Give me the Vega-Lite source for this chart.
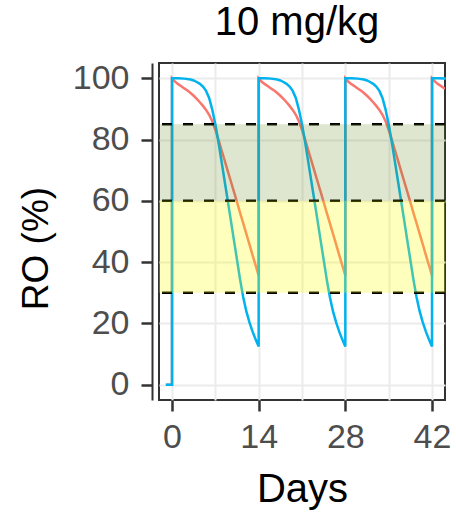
{
  "$schema": "https://vega.github.io/schema/vega-lite/v6.json",
  "width": 286,
  "height": 337,
  "autosize": "none",
  "padding": {"left": 159, "top": 63, "right": 11, "bottom": 112},
  "background": "white",
  "title": {"text": "10 mg/kg", "font": "Liberation Sans", "fontSize": 40, "fontWeight": "normal", "color": "#000000", "anchor": "middle", "baseline": "alphabetic", "offset": -14, "dx": -5},
  "datasets": {
    "blue": [
      {"day": -1, "ro": 0}, {"day": 0, "ro": 0}, {"day": 0, "ro": 100}, {"day": 1, "ro": 100}, {"day": 2, "ro": 99.9}, {"day": 3, "ro": 99.6}, {"day": 3.5, "ro": 99.3}, {"day": 4, "ro": 98.8}, {"day": 4.5, "ro": 98.2}, {"day": 5, "ro": 97.3}, {"day": 5.5, "ro": 95.9}, {"day": 6, "ro": 93.6}, {"day": 6.5, "ro": 89.8}, {"day": 7, "ro": 85}, {"day": 7.5, "ro": 79.2}, {"day": 8, "ro": 72.9}, {"day": 8.5, "ro": 66.5}, {"day": 9, "ro": 60.1}, {"day": 9.5, "ro": 53.7}, {"day": 10, "ro": 47.2}, {"day": 10.5, "ro": 40.8}, {"day": 11, "ro": 34.3}, {"day": 11.5, "ro": 28.6}, {"day": 12, "ro": 24}, {"day": 12.5, "ro": 20.4}, {"day": 13, "ro": 17.4}, {"day": 13.5, "ro": 14.8}, {"day": 14, "ro": 12.5},
      {"day": 14, "ro": 100}, {"day": 15, "ro": 100}, {"day": 16, "ro": 99.9}, {"day": 17, "ro": 99.6}, {"day": 17.5, "ro": 99.3}, {"day": 18, "ro": 98.8}, {"day": 18.5, "ro": 98.2}, {"day": 19, "ro": 97.3}, {"day": 19.5, "ro": 95.9}, {"day": 20, "ro": 93.6}, {"day": 20.5, "ro": 89.8}, {"day": 21, "ro": 85}, {"day": 21.5, "ro": 79.2}, {"day": 22, "ro": 72.9}, {"day": 22.5, "ro": 66.5}, {"day": 23, "ro": 60.1}, {"day": 23.5, "ro": 53.7}, {"day": 24, "ro": 47.2}, {"day": 24.5, "ro": 40.8}, {"day": 25, "ro": 34.3}, {"day": 25.5, "ro": 28.6}, {"day": 26, "ro": 24}, {"day": 26.5, "ro": 20.4}, {"day": 27, "ro": 17.4}, {"day": 27.5, "ro": 14.8}, {"day": 28, "ro": 12.5},
      {"day": 28, "ro": 100}, {"day": 29, "ro": 100}, {"day": 30, "ro": 99.9}, {"day": 31, "ro": 99.6}, {"day": 31.5, "ro": 99.3}, {"day": 32, "ro": 98.8}, {"day": 32.5, "ro": 98.2}, {"day": 33, "ro": 97.3}, {"day": 33.5, "ro": 95.9}, {"day": 34, "ro": 93.6}, {"day": 34.5, "ro": 89.8}, {"day": 35, "ro": 85}, {"day": 35.5, "ro": 79.2}, {"day": 36, "ro": 72.9}, {"day": 36.5, "ro": 66.5}, {"day": 37, "ro": 60.1}, {"day": 37.5, "ro": 53.7}, {"day": 38, "ro": 47.2}, {"day": 38.5, "ro": 40.8}, {"day": 39, "ro": 34.3}, {"day": 39.5, "ro": 28.6}, {"day": 40, "ro": 24}, {"day": 40.5, "ro": 20.4}, {"day": 41, "ro": 17.4}, {"day": 41.5, "ro": 14.8}, {"day": 42, "ro": 12.5},
      {"day": 42, "ro": 100}, {"day": 43, "ro": 100}, {"day": 44.1, "ro": 99.95}
    ],
    "red": [
      {"day": -1, "ro": 0}, {"day": 0, "ro": 0}, {"day": 0, "ro": 100}, {"day": 0.25, "ro": 99.4}, {"day": 0.5, "ro": 98.9}, {"day": 1, "ro": 98.1}, {"day": 1.5, "ro": 97.4}, {"day": 2, "ro": 96.7}, {"day": 2.5, "ro": 96}, {"day": 3, "ro": 95.2}, {"day": 3.5, "ro": 94.3}, {"day": 4, "ro": 93.3}, {"day": 4.5, "ro": 92.2}, {"day": 5, "ro": 91}, {"day": 5.5, "ro": 89.7}, {"day": 6, "ro": 88.1}, {"day": 6.5, "ro": 86}, {"day": 7, "ro": 83.2}, {"day": 7.5, "ro": 80}, {"day": 8, "ro": 76.6}, {"day": 8.5, "ro": 73.2}, {"day": 9, "ro": 69.8}, {"day": 9.5, "ro": 66.4}, {"day": 10, "ro": 63}, {"day": 10.5, "ro": 59.6}, {"day": 11, "ro": 56.1}, {"day": 11.5, "ro": 52.7}, {"day": 12, "ro": 49.3}, {"day": 12.5, "ro": 45.9}, {"day": 13, "ro": 42.4}, {"day": 13.5, "ro": 39}, {"day": 14, "ro": 35.6},
      {"day": 14, "ro": 100}, {"day": 14.25, "ro": 99.4}, {"day": 14.5, "ro": 98.9}, {"day": 15, "ro": 98.1}, {"day": 15.5, "ro": 97.4}, {"day": 16, "ro": 96.7}, {"day": 16.5, "ro": 96}, {"day": 17, "ro": 95.2}, {"day": 17.5, "ro": 94.3}, {"day": 18, "ro": 93.3}, {"day": 18.5, "ro": 92.2}, {"day": 19, "ro": 91}, {"day": 19.5, "ro": 89.7}, {"day": 20, "ro": 88.1}, {"day": 20.5, "ro": 86}, {"day": 21, "ro": 83.2}, {"day": 21.5, "ro": 80}, {"day": 22, "ro": 76.6}, {"day": 22.5, "ro": 73.2}, {"day": 23, "ro": 69.8}, {"day": 23.5, "ro": 66.4}, {"day": 24, "ro": 63}, {"day": 24.5, "ro": 59.6}, {"day": 25, "ro": 56.1}, {"day": 25.5, "ro": 52.7}, {"day": 26, "ro": 49.3}, {"day": 26.5, "ro": 45.9}, {"day": 27, "ro": 42.4}, {"day": 27.5, "ro": 39}, {"day": 28, "ro": 35.6},
      {"day": 28, "ro": 100}, {"day": 28.25, "ro": 99.4}, {"day": 28.5, "ro": 98.9}, {"day": 29, "ro": 98.1}, {"day": 29.5, "ro": 97.4}, {"day": 30, "ro": 96.7}, {"day": 30.5, "ro": 96}, {"day": 31, "ro": 95.2}, {"day": 31.5, "ro": 94.3}, {"day": 32, "ro": 93.3}, {"day": 32.5, "ro": 92.2}, {"day": 33, "ro": 91}, {"day": 33.5, "ro": 89.7}, {"day": 34, "ro": 88.1}, {"day": 34.5, "ro": 86}, {"day": 35, "ro": 83.2}, {"day": 35.5, "ro": 80}, {"day": 36, "ro": 76.6}, {"day": 36.5, "ro": 73.2}, {"day": 37, "ro": 69.8}, {"day": 37.5, "ro": 66.4}, {"day": 38, "ro": 63}, {"day": 38.5, "ro": 59.6}, {"day": 39, "ro": 56.1}, {"day": 39.5, "ro": 52.7}, {"day": 40, "ro": 49.3}, {"day": 40.5, "ro": 45.9}, {"day": 41, "ro": 42.4}, {"day": 41.5, "ro": 39}, {"day": 42, "ro": 35.6},
      {"day": 42, "ro": 100}, {"day": 42.25, "ro": 99.4}, {"day": 42.5, "ro": 98.9}, {"day": 43, "ro": 98.1}, {"day": 43.5, "ro": 97.4}, {"day": 44, "ro": 96.7}, {"day": 44.1, "ro": 96.6}
    ]
  },
  "layer": [
    {
      "data": {"name": "red"},
      "mark": {"type": "line", "color": "#F8766D", "strokeWidth": 2.5, "clip": true},
      "encoding": {
        "x": {"field": "day", "type": "quantitative", "scale": {"domain": [-2.1, 44.1], "nice": false, "zero": false},
          "axis": {"title": "Days", "titleFontSize": 40, "values": [0, 7, 14, 21, 28, 35, 42], "labelExpr": "datum.value % 14 == 0 ? datum.label : ''", "tickOpacity": {"condition": {"test": "datum.value % 14 != 0", "value": 0}, "value": 1}, "domain": false, "labelPadding": 9, "titlePadding": 15}},
        "y": {"field": "ro", "type": "quantitative", "scale": {"domain": [-5, 105], "nice": false, "zero": false},
          "axis": {"title": "RO (%)", "titleFontSize": 37, "titleY": 185, "values": [0, 10, 20, 30, 40, 50, 60, 70, 80, 90, 100], "labelExpr": "datum.value % 20 == 0 ? datum.label : ''", "tickOpacity": {"condition": {"test": "datum.value % 20 != 0", "value": 0}, "value": 1}, "offset": 7, "domain": true, "labelPadding": 12, "titlePadding": 17}},
        "order": [{"field": "day", "type": "quantitative"}, {"field": "ro", "type": "quantitative"}]
      }
    },
    {
      "data": {"name": "blue"},
      "mark": {"type": "line", "color": "#00B2EE", "strokeWidth": 2.5, "clip": true},
      "encoding": {
        "x": {"field": "day", "type": "quantitative"},
        "y": {"field": "ro", "type": "quantitative"},
        "order": [{"field": "day", "type": "quantitative"}, {"field": "ro", "type": "quantitative"}]
      }
    },
    {
      "data": {"values": [{"level": 30}, {"level": 60}, {"level": 85}]},
      "mark": {"type": "rule", "strokeDash": [10, 11], "strokeWidth": 2.5, "color": "#000000"},
      "encoding": {"y": {"field": "level", "type": "quantitative"}}
    },
    {
      "data": {"values": [{"lo": 60, "hi": 85, "band": "g"}, {"lo": 30, "hi": 60, "band": "y"}]},
      "mark": {"type": "rect"},
      "encoding": {
        "y": {"field": "lo", "type": "quantitative"},
        "y2": {"field": "hi"},
        "color": {"field": "band", "type": "nominal", "scale": {"domain": ["g", "y"], "range": ["#6B8E23", "#FFFF00"]}, "legend": null},
        "opacity": {"field": "band", "type": "nominal", "scale": {"domain": ["g", "y"], "range": [0.22, 0.26]}, "legend": null}
      }
    }
  ],
  "config": {
    "view": {"stroke": "#333333", "strokeWidth": 2},
    "axis": {"gridColor": "#EBEBEB", "gridWidth": 2, "labelFont": "Liberation Sans", "labelFontSize": 34, "labelColor": "#4D4D4D", "tickColor": "#333333", "tickWidth": 2.5, "tickSize": 11, "domainColor": "#333333", "domainWidth": 2, "titleFont": "Liberation Sans", "titleFontSize": 38, "titleFontWeight": "normal", "titleColor": "#000000"}
  }
}
